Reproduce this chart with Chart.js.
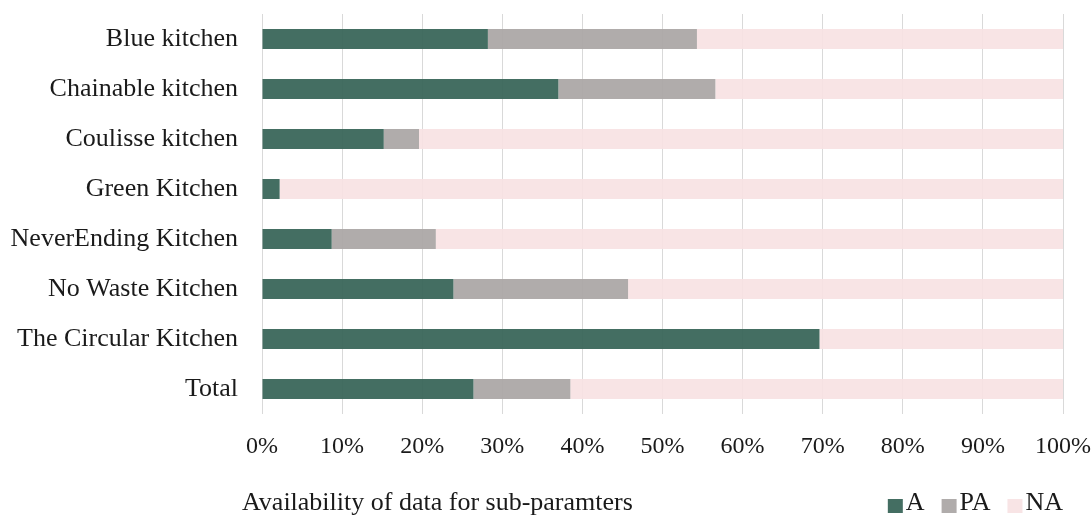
<!DOCTYPE html>
<html>
<head>
<meta charset="utf-8">
<script src="https://cdn.jsdelivr.net/npm/chart.js@4"></script>
<style>
  html, body { margin: 0; padding: 0; background: #ffffff; }
  #wrap { width: 1091px; height: 515px; position: relative; }
</style>
</head>
<body>
<div id="wrap"><canvas id="c" width="1091" height="515"></canvas></div>
<script>
const categories = ["Blue kitchen", "Chainable kitchen", "Coulisse kitchen", "Green Kitchen", "NeverEnding Kitchen", "No Waste Kitchen", "The Circular Kitchen", "Total"];
const seriesNames = ["A", "PA", "NA"];
const valuesA  = [28.2, 37.0, 15.2, 2.2, 8.7, 23.9, 69.6, 26.4];
const valuesPA = [26.1, 19.6, 4.4, 0, 13.0, 21.8, 0, 12.1];
const valuesNA = [45.7, 43.4, 80.4, 97.8, 78.3, 54.3, 30.4, 61.5];
const xTicks = [0, 10, 20, 30, 40, 50, 60, 70, 80, 90, 100];
const axisTitle = "Availability of data for sub-paramters";

const colors = ["rgba(58,102,90,0.95)", "rgba(172,168,167,0.95)", "rgba(247,225,226,0.9)"];
const FONT = "'Liberation Serif', 'Times New Roman', serif";

const bottomDecor = {
  id: 'bottomDecor',
  afterDraw(chart) {
    const ctx = chart.ctx;
    ctx.save();
    ctx.fillStyle = '#1a1a1a';
    ctx.font = "26px " + FONT;
    ctx.textBaseline = 'middle';
    ctx.textAlign = 'left';
    const y = 503;
    ctx.fillText(axisTitle, 242, y);
    // legend, right aligned
    const box = 15, gapText = 3, gapItem = 17;
    let widths = seriesNames.map(n => box + gapText + ctx.measureText(n).width);
    let total = widths.reduce((a, b) => a + b, 0) + gapItem * (seriesNames.length - 1);
    let x = 1063 - total;
    seriesNames.forEach((n, i) => {
      ctx.fillStyle = chart.data.datasets[i].backgroundColor;
      ctx.fillRect(x, y - 4, box, 14);
      ctx.fillStyle = '#1a1a1a';
      ctx.fillText(n, x + box + gapText, y);
      x += widths[i] + gapItem;
    });
    ctx.restore();
  }
};

new Chart(document.getElementById('c'), {
  type: 'bar',
  data: {
    labels: categories,
    datasets: [
      { label: seriesNames[0], data: valuesA, backgroundColor: colors[0] },
      { label: seriesNames[1], data: valuesPA, backgroundColor: colors[1] },
      { label: seriesNames[2], data: valuesNA, backgroundColor: colors[2] }
    ]
  },
  options: {
    indexAxis: 'y',
    responsive: false,
    animation: false,
    layout: { padding: { top: 14, right: 28, bottom: 55, left: 0 } },
    datasets: { bar: { categoryPercentage: 0.8, barPercentage: 0.5, borderWidth: 0 } },
    plugins: { legend: { display: false }, tooltip: { enabled: false } },
    scales: {
      x: {
        stacked: true,
        min: 0, max: 100,
        afterBuildTicks: (s) => { s.ticks = xTicks.map(v => ({ value: v })); },
        afterFit: (s) => { s.height = 46; s.paddingLeft = 0; s.paddingRight = 0; },
        grid: { color: '#d9d9d9', lineWidth: 1, drawTicks: false },
        border: { display: false },
        ticks: {
          padding: 18,
          color: '#1a1a1a',
          maxRotation: 0,
          font: { family: FONT, size: 24 },
          callback: (v) => v + '%'
        }
      },
      y: {
        stacked: true,
        afterFit: (s) => { s.width = 262; s.paddingTop = 0; s.paddingBottom = 0; },
        grid: { display: false, drawTicks: false },
        border: { display: false },
        ticks: {
          padding: 24,
          color: '#1a1a1a',
          font: { family: FONT, size: 26 }
        }
      }
    }
  },
  plugins: [bottomDecor]
});
</script>
</body>
</html>
